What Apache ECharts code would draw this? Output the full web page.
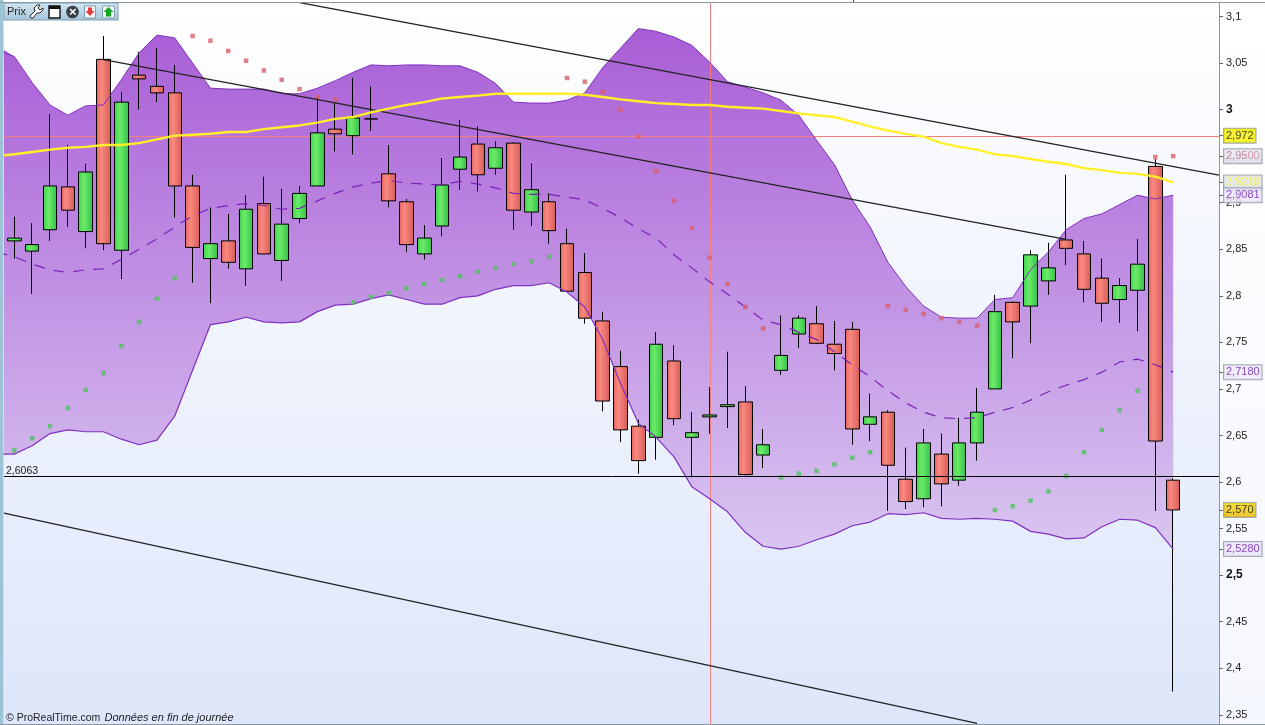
<!DOCTYPE html>
<html><head><meta charset="utf-8">
<script src="https://cdn.jsdelivr.net/npm/echarts@6/dist/echarts.min.js"></script>
<style>html,body{margin:0;padding:0;background:#fff;overflow:hidden}#c{width:1265px;height:725px}</style>
</head><body><div id="c"></div>
<script>
const opens=[2.859,2.848,2.871,2.917,2.869,3.054,2.849,3.037,3.025,3.018,
2.918,2.840,2.859,2.829,2.899,2.838,2.883,2.918,2.979,2.972,
2.990,2.931,2.901,2.845,2.875,2.936,2.963,2.937,2.964,2.890,
2.901,2.856,2.825,2.773,2.724,2.660,2.648,2.730,2.648,2.670,
2.681,2.686,2.629,2.720,2.759,2.770,2.748,2.764,2.662,2.675,
2.603,2.582,2.630,2.602,2.642,2.700,2.793,2.789,2.816,2.860,
2.845,2.819,2.796,2.806,2.939,2.602];
const closes=[2.862,2.855,2.918,2.892,2.933,2.856,3.008,3.033,3.018,2.918,
2.852,2.856,2.836,2.893,2.845,2.877,2.910,2.975,2.974,2.991,
2.990,2.902,2.855,2.862,2.919,2.949,2.930,2.959,2.892,2.914,
2.870,2.805,2.776,2.687,2.656,2.623,2.748,2.668,2.653,2.672,
2.683,2.608,2.640,2.736,2.776,2.749,2.738,2.657,2.670,2.618,
2.579,2.642,2.598,2.642,2.675,2.783,2.772,2.844,2.830,2.851,
2.807,2.792,2.811,2.834,2.644,2.570];
const lows=[2.840,2.802,2.859,2.874,2.851,2.849,2.818,3.000,3.008,2.884,
2.814,2.792,2.829,2.811,2.845,2.816,2.878,2.918,2.955,2.952,
2.977,2.895,2.847,2.839,2.864,2.914,2.912,2.930,2.871,2.875,
2.856,2.805,2.770,2.676,2.643,2.609,2.624,2.661,2.605,2.652,
2.658,2.607,2.615,2.715,2.744,2.748,2.720,2.640,2.644,2.569,
2.571,2.573,2.574,2.596,2.623,2.700,2.733,2.749,2.801,2.833,
2.793,2.772,2.771,2.762,2.569,2.375];
const highs=[2.885,2.878,2.995,2.962,2.942,3.079,3.019,3.062,3.066,3.048,
2.930,2.895,2.888,2.908,2.928,2.915,2.918,3.014,3.007,3.034,
3.025,2.962,2.904,2.876,2.948,2.989,2.982,2.966,2.965,2.942,
2.910,2.872,2.846,2.783,2.741,2.667,2.761,2.747,2.675,2.702,
2.740,2.703,2.657,2.779,2.779,2.789,2.773,2.772,2.695,2.677,
2.637,2.657,2.652,2.669,2.701,2.801,2.794,2.849,2.857,2.930,
2.859,2.840,2.819,2.861,2.947,2.604];
// Indicators start one bar before the first candle (bar -1)
const bandUpper=[3.064,3.057,3.029,3.005,2.994,3.004,3.005,3.032,3.061,3.080,3.077,3.050,3.023,3.022,3.022,3.022,3.017,3.017,3.023,3.031,3.040,3.048,3.047,3.048,3.048,3.047,3.047,3.040,3.028,3.008,3.007,3.007,3.010,3.018,3.045,3.066,3.087,3.084,3.078,3.069,3.051,3.030,3.024,3.018,3.010,2.994,2.967,2.941,2.903,2.874,2.836,2.810,2.789,2.777,2.776,2.776,2.796,2.798,2.828,2.847,2.871,2.883,2.888,2.898,2.908,2.904,2.9081];
const bandLower=[2.630,2.630,2.639,2.652,2.656,2.654,2.654,2.646,2.640,2.645,2.671,2.720,2.769,2.772,2.777,2.772,2.771,2.772,2.783,2.790,2.791,2.797,2.801,2.796,2.791,2.791,2.798,2.800,2.807,2.811,2.811,2.814,2.804,2.788,2.753,2.706,2.663,2.648,2.627,2.595,2.582,2.568,2.546,2.531,2.528,2.531,2.538,2.544,2.553,2.557,2.566,2.565,2.567,2.561,2.560,2.561,2.560,2.558,2.547,2.544,2.539,2.540,2.552,2.560,2.559,2.551,2.528];
const bandMid=[2.847,2.842,2.834,2.828,2.825,2.828,2.829,2.839,2.850,2.861,2.874,2.886,2.894,2.897,2.899,2.897,2.893,2.894,2.902,2.910,2.917,2.921,2.924,2.921,2.920,2.919,2.923,2.920,2.916,2.910,2.909,2.909,2.906,2.903,2.894,2.884,2.872,2.862,2.844,2.830,2.815,2.802,2.788,2.774,2.769,2.761,2.753,2.740,2.726,2.713,2.698,2.685,2.675,2.669,2.668,2.669,2.675,2.680,2.688,2.697,2.704,2.710,2.718,2.729,2.732,2.726,2.718];
const movingAvg=[2.950,2.952,2.9545,2.957,2.959,2.960,2.962,2.962,2.964,2.968,2.972,2.973,2.974,2.976,2.976,2.979,2.981,2.983,2.986,2.990,2.992,2.997,3.001,3.005,3.008,3.012,3.0135,3.015,3.017,3.017,3.017,3.017,3.017,3.016,3.0135,3.011,3.009,3.007,3.006,3.005,3.005,3.003,3.002,3.001,2.9985,2.996,2.994,2.992,2.987,2.982,2.9775,2.974,2.971,2.964,2.960,2.957,2.952,2.950,2.947,2.944,2.9416,2.937,2.935,2.932,2.931,2.928,2.9218];
const sarRedBars=[10,11,12,13,14,15,16,17,18,31,32,33,34,35,36,37,38,39,40,41,42,49,50,51,52,53,54,64,65];
const sarRedVals=[3.079,3.074,3.063,3.0525,3.042,3.032,3.022,3.0135,3.011,3.034,3.030,3.019,3.000,2.971,2.934,2.902,2.873,2.841,2.813,2.788,2.765,2.789,2.785,2.7805,2.776,2.772,2.768,2.949,2.950];
const sarGreenBars=[0,1,2,3,4,5,6,7,8,9,19,20,21,22,23,24,25,26,27,28,29,30,43,44,45,46,47,48,55,56,57,58,59,60,61,62,63];
const sarGreenVals=[2.634,2.647,2.660,2.6795,2.699,2.717,2.746,2.772,2.797,2.819,2.793,2.799,2.803,2.808,2.813,2.817,2.821,2.826,2.830,2.834,2.837,2.842,2.605,2.609,2.612,2.619,2.626,2.632,2.570,2.574,2.580,2.590,2.6065,2.632,2.656,2.677,2.698];
const trendUpper=[[16,3.1149],[67.57,2.9297]];
const trendMiddle=[[5,3.0538],[59,2.8605]];
const trendLower=[[-0.578,2.5667],[54,2.3407]];
const supportLevel=2.6063, crossPrice=2.9711, crossBar=39.05;
const tickValues=[2.35,2.4,2.45,2.5,2.55,2.6,2.65,2.7,2.75,2.8,2.85,2.9,2.95,3,3.05,3.1];
const tickLabels=['2,35','2,4','2,45','2,5','2,55','2,6','2,65','2,7','2,75','2,8','2,85','2,9','2,95','3','3,05','3,1'];
const boldTicks=['3','2,5'];
const tagValues=[2.9218,2.9081,2.95,2.972,2.718,2.570,2.528];
const tagLabels=['2,9218','2,9081','2,9500','2,972','2,7180','2,570','2,5280'];
const xMin=-0.578,xMax=67.57,yMin=2.3401,yMax=3.1145;

const G=echarts.graphic.LinearGradient;
const FONT='"Liberation Sans",Arial,sans-serif';
const barsFromMinusOne=a=>a.map((v,i)=>[i-1,v]);
const candle=opens.map((o,i)=>[i,o,closes[i],lows[i],highs[i]]);
const redFill=new G(0,0,1,0,[{offset:0,color:'#e6625e'},{offset:.35,color:'#f98a80'},{offset:1,color:'#d85a58'}]);
const greenFill=new G(0,0,1,0,[{offset:0,color:'#3fd44d'},{offset:.4,color:'#6dea68'},{offset:1,color:'#30c04a'}]);
const bandFill=new G(0,20,0,560,[{offset:0,color:'#a85cd6'},{offset:1,color:'#dac8f1'}],true);
const tagStyles={
 '2,9218':{color:'#f2f23a',backgroundColor:new G(0,0,0,1,[{offset:0,color:'#ececf0'},{offset:1,color:'#d4d8dc'}])},
 '2,9081':{color:'#6a20b0',backgroundColor:'#ece4fa'},
 '2,9500':{color:'#c48a98',backgroundColor:new G(0,0,0,1,[{offset:0,color:'#eeeaf4'},{offset:1,color:'#d8d6e6'}])},
 '2,972':{color:'#111',backgroundColor:'#f6f000'},
 '2,7180':{color:'#6a20b0',backgroundColor:'#f1e9fb'},
 '2,570':{color:'#111',backgroundColor:new G(0,0,0,1,[{offset:0,color:'#f8dc10'},{offset:1,color:'#e8b400'}])},
 '2,5280':{color:'#6a20b0',backgroundColor:'#ece4fa'}
};
const thin=(name,data,color,w,z,extra)=>Object.assign({name,type:'line',data,symbol:'none',silent:true,z,lineStyle:{color,width:w}},extra||{});

const option={
 animation:false,
 textStyle:{fontFamily:FONT},
 graphic:[
  {type:'rect',z:-10,silent:true,shape:{x:1219,y:3,width:46,height:721},style:{fill:new G(0,0,0,1,[{offset:0,color:'#ffffff'},{offset:1,color:'#f5f7fe'}])}},
  {type:'rect',z:90,silent:true,shape:{x:0,y:0,width:3.5,height:725},style:{fill:'#9cc4d6'}},
  {type:'rect',z:90,silent:true,shape:{x:0,y:2,width:1265,height:1},style:{fill:'#8a979f'}},
  {type:'rect',z:90,silent:true,shape:{x:853,y:0,width:1,height:2},style:{fill:'#555'}},
  {type:'rect',z:90,silent:true,shape:{x:0,y:724,width:1265,height:1},style:{fill:'#8a979f'}},
  {type:'rect',z:95,silent:true,shape:{x:4,y:3,width:114,height:17},style:{fill:new G(0,0,0,1,[{offset:0,color:'#d6e6f1'},{offset:1,color:'#a3c5da'}]),stroke:'#7f9fb4',lineWidth:1}},
  {type:'text',z:96,silent:true,style:{x:7,y:6,text:'Prix',font:'11px '+FONT,fill:'#222'}},
  {type:'polygon',z:96,silent:true,shape:{points:[[31,18],[30,16],[35,11],[34,8],[37,5],[40,5],[38,8],[40,10],[43,8],[43,10],[40,13],[37,13],[33,18]]},style:{fill:'#fff',stroke:'#222',lineWidth:1}},
  {type:'rect',z:96,silent:true,shape:{x:49,y:6,width:11,height:12},style:{fill:'#fff',stroke:'#111',lineWidth:1.4}},
  {type:'rect',z:96,silent:true,shape:{x:49,y:6,width:11,height:3},style:{fill:'#111'}},
  {type:'circle',z:96,silent:true,shape:{cx:72.5,cy:12,r:6.3},style:{fill:'#3a3f44'}},
  {type:'text',z:97,silent:true,style:{x:69,y:6,text:'×',font:'bold 13px '+FONT,fill:'#fff'}},
  {type:'rect',z:96,silent:true,shape:{x:84.5,y:6,width:11,height:12},style:{fill:'#f4f6f8',stroke:'#7f9fb4',lineWidth:1}},
  {type:'polygon',z:97,silent:true,shape:{points:[[88,7.5],[92,7.5],[92,11],[94.5,11],[90,16],[85.5,11],[88,11]]},style:{fill:'#e8383c'}},
  {type:'rect',z:96,silent:true,shape:{x:102.5,y:6,width:12,height:12},style:{fill:'#f4f6f8',stroke:'#7f9fb4',lineWidth:1}},
  {type:'polygon',z:97,silent:true,shape:{points:[[108.5,7],[113.5,12],[111,12],[111,16.5],[106,16.5],[106,12],[103.5,12]]},style:{fill:'#12a81e'}},
  {type:'text',z:96,silent:true,style:{x:6,y:712.5,text:'© ProRealTime.com',font:'10.5px '+FONT,fill:'#222'}},
  {type:'text',z:96,silent:true,style:{x:104.5,y:712.5,text:'Données en fin de journée',font:'italic 11px '+FONT,fill:'#222'}}
 ],
 grid:{left:4,right:46,top:3,bottom:1,show:true,borderWidth:0,
  backgroundColor:new G(0,0,0,1,[{offset:0,color:'#ffffff'},{offset:1,color:'#dde6fa'}])},
 xAxis:{type:'value',min:xMin,max:xMax,show:false,splitLine:{show:false}},
 yAxis:{type:'value',position:'right',min:yMin,max:yMax,scale:true,
  splitLine:{show:false},
  axisLine:{show:true,onZero:false,lineStyle:{color:'#8a979f',width:1}},
  axisTick:{show:true,length:4,lineStyle:{color:'#666'},customValues:tickValues.concat(tagValues)},
  axisLabel:{show:true,margin:7,fontSize:11,color:'#222',customValues:tickValues,
   formatter:v=>{const t=tickLabels[tickValues.findIndex(k=>Math.abs(k-v)<1e-6)];return boldTicks.includes(t)?'{b|'+t+'}':t;},
   rich:{b:{fontWeight:'bold',fontSize:12,color:'#111'}}}
 },
 series:[
  {name:'Bollinger',type:'custom',silent:true,z:1,clip:true,data:[[0,bandUpper[0]]],
   renderItem:(params,api)=>{
    const up=bandUpper.map((v,i)=>api.coord([i-1,v]));
    const low=bandLower.map((v,i)=>api.coord([i-1,v])).reverse();
    const r=params.coordSys;
    const pts=echarts.graphic.clipPointsByRect(up.concat(low),{x:r.x,y:r.y,width:r.width,height:r.height});
    return {type:'polygon',shape:{points:pts},style:{fill:bandFill}};
   }},
  thin('Réticule V',[[crossBar,yMin],[crossBar,yMax]],'#f28080',1,2),
  thin('Réticule H',[[xMin,crossPrice],[xMax,crossPrice]],'#f28080',1,2),
  {name:'Cours',type:'candlestick',data:candle,barWidth:14,silent:true,z:3,
   itemStyle:{color:greenFill,color0:redFill,borderColor:'#000',borderColor0:'#000',borderColorDoji:'#000',borderWidth:1}},
  thin('Bollinger sup',barsFromMinusOne(bandUpper),'#8030c0',1,4),
  thin('Bollinger inf',barsFromMinusOne(bandLower),'#8030c0',1.2,4),
  thin('Bollinger moy',barsFromMinusOne(bandMid),'#7a22b8',1.2,4,{lineStyle:{color:'#7a22b8',width:1.2,type:[11,9]}}),
  {name:'SAR haut',type:'scatter',data:sarRedBars.map((b,i)=>[b,sarRedVals[i]]),symbol:'rect',symbolSize:4.5,silent:true,z:5,itemStyle:{color:'#d9606c'}},
  {name:'SAR bas',type:'scatter',data:sarGreenBars.map((b,i)=>[b,sarGreenVals[i]]),symbol:'rect',symbolSize:4.5,silent:true,z:5,itemStyle:{color:'#52c060'}},
  thin('Canal haut',trendUpper,'#222',1.3,6),
  thin('Canal milieu',trendMiddle,'#222',1.3,6),
  thin('Canal bas',trendLower,'#222',1.3,6),
  thin('Moyenne mobile',barsFromMinusOne(movingAvg),'#fff02a',2.4,7,{markLine:{silent:true,symbol:'none',animation:false,precision:4,z:7,
    lineStyle:{color:'#000',width:1,type:'solid'},
    label:{show:true,position:'insideStartTop',distance:[2,0],formatter:'2,6063',fontSize:10.5,color:'#222',fontFamily:FONT},
    data:[{yAxis:supportLevel}]}}),
  {name:'Étiquettes',type:'scatter',symbolSize:0,silent:true,z:20,clip:false,
   data:tagValues.map((v,i)=>({value:[xMax,v],label:Object.assign({show:true,position:'right',distance:5,formatter:tagLabels[i],fontSize:11,fontFamily:FONT,
     padding:[2,2,1,2],borderColor:'#8a979f',borderWidth:1},tagStyles[tagLabels[i]])}))}
 ]
};
echarts.init(document.getElementById('c'),null,{renderer:'canvas'}).setOption(option);
</script></body></html>
